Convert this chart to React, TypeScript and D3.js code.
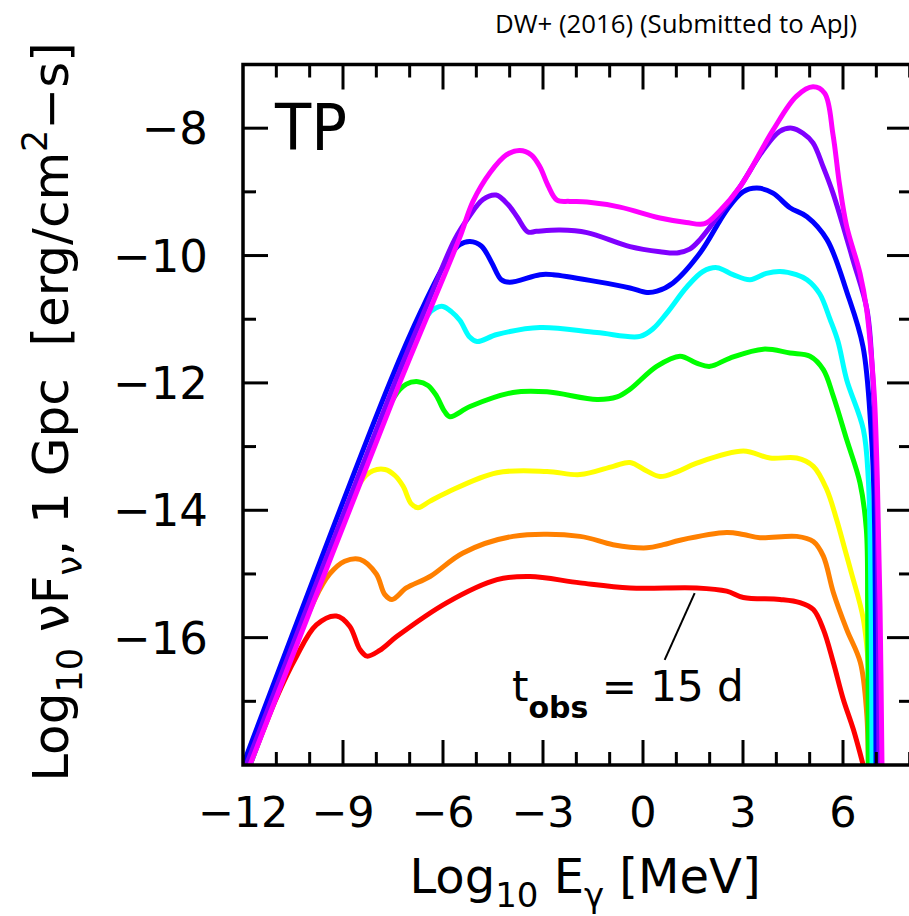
import React from 'react';
import * as d3 from 'd3';

type P = [number, number];

const X_DOMAIN: [number, number] = [-12, 8.07];
const Y_DOMAIN: [number, number] = [-18, -7];
const xMajorTicks = [-12, -9, -6, -3, 0, 3, 6];
const xMinorTicks = d3.range(-11, 9);
const yMajorTicks = [-8, -10, -12, -14, -16];
const yMinorTicks = d3.range(-17, -7);
const subtitle = 'DW+ (2016) (Submitted to ApJ)';
const panelLabel = 'TP';

const red: P[] = [
  [-11.79, -18], [-11.0, -16.95], [-10.4, -16.3], [-9.8, -15.8], [-9.2, -15.66], [-8.8, -15.82],
  [-8.5, -16.18], [-8.28, -16.29], [-7.9, -16.2], [-7.38, -15.98], [-5.88, -15.45], [-4.38, -15.09],
  [-3.39, -15.04], [-1.89, -15.14], [-0.39, -15.22], [1.61, -15.22], [2.51, -15.27], [3.01, -15.37],
  [4.11, -15.4], [4.71, -15.45], [5.11, -15.56], [5.41, -15.87], [5.71, -16.39], [6.01, -16.97],
  [6.31, -17.44], [6.61, -18.01],
];
const orange: P[] = [
  [-11.79, -18], [-9.84, -15.39], [-9.4, -15.0], [-8.95, -14.8], [-8.49, -14.77], [-8.0, -15.0],
  [-7.75, -15.32], [-7.53, -15.4], [-7.1, -15.22], [-6.39, -15.04], [-5.4, -14.67], [-3.9, -14.41],
  [-1.89, -14.41], [-0.9, -14.54], [0.12, -14.59], [0.61, -14.54], [1.11, -14.47], [2.51, -14.35],
  [3.01, -14.38], [3.51, -14.43], [4.61, -14.41], [5.11, -14.49], [5.41, -14.72], [5.71, -15.29],
  [6.11, -15.87], [6.52, -16.39], [6.71, -17.18], [6.76, -18.01],
];
const yellow: P[] = [
  [-11.79, -18], [-8.45, -13.54], [-8.1, -13.38], [-7.74, -13.36], [-7.45, -13.45], [-7.2, -13.62],
  [-6.95, -13.9], [-6.75, -13.96], [-6.4, -13.86], [-5.88, -13.72], [-4.38, -13.41], [-2.88, -13.39],
  [-1.89, -13.44], [-0.89, -13.31], [-0.39, -13.25], [0.1, -13.38], [0.51, -13.47], [1.0, -13.4],
  [1.61, -13.26], [3.01, -13.07], [3.81, -13.18], [4.61, -13.18], [5.11, -13.31], [5.51, -13.67],
  [5.81, -14.15], [6.06, -14.62], [6.25, -14.98], [6.61, -15.71], [6.81, -16.76], [6.91, -18.01],
];
const green: P[] = [
  [-11.79, -18], [-7.46, -12.22], [-7.1, -12.02], [-6.75, -11.98], [-6.45, -12.04], [-6.2, -12.2],
  [-5.95, -12.45], [-5.79, -12.53], [-5.19, -12.37], [-3.9, -12.15], [-2.88, -12.14], [-1.38, -12.26],
  [-0.78, -12.22], [-0.39, -12.1], [0.41, -11.74], [1.11, -11.58], [1.61, -11.69], [2.01, -11.74],
  [2.61, -11.61], [3.61, -11.47], [4.41, -11.53], [5.01, -11.58], [5.41, -11.79], [5.71, -12.21],
  [6.11, -12.89], [6.51, -13.57], [6.7, -14.3], [6.74, -15.6], [6.76, -18.01],
];
const cyan: P[] = [
  [-11.79, -18], [-6.45, -10.93], [-6.2, -10.82], [-6.0, -10.8], [-5.75, -10.88], [-5.49, -11.02],
  [-5.2, -11.28], [-4.98, -11.35], [-4.38, -11.24], [-3.09, -11.13], [-1.38, -11.21], [-0.09, -11.27],
  [0.3, -11.15], [0.72, -10.9], [1.32, -10.49], [1.8, -10.25], [2.22, -10.19], [2.7, -10.3],
  [3.21, -10.38], [3.7, -10.28], [4.11, -10.25], [4.6, -10.3], [4.92, -10.38], [5.3, -10.6],
  [5.61, -11.0], [5.85, -11.35], [6.11, -11.95], [6.61, -12.73], [6.76, -13.52], [6.84, -15.5],
  [6.87, -18.01],
];
const blue: P[] = [
  [-12, -18], [-7.6, -12], [-6.64, -10.85], [-5.85, -10.05], [-5.5, -9.83], [-5.19, -9.78],
  [-4.85, -9.85], [-4.55, -10.1], [-4.25, -10.38], [-4.0, -10.42], [-3.09, -10.3], [-2.7, -10.3],
  [-1.38, -10.41], [-0.39, -10.51], [0.12, -10.58], [0.42, -10.56], [0.9, -10.43], [1.71, -9.96],
  [2.52, -9.28], [3.0, -9.0], [3.42, -8.94], [3.9, -9.02], [4.41, -9.25], [4.92, -9.39],
  [5.52, -9.75], [6.12, -10.58], [6.6, -11.43], [6.84, -12.73], [6.93, -13.78], [6.99, -18.01],
];
const purple: P[] = [
  [-11.9, -18], [-7.45, -12.0], [-6.5, -10.8], [-5.65, -9.75], [-5.22, -9.39], [-4.8, -9.12],
  [-4.41, -9.05], [-4.05, -9.2], [-3.78, -9.39], [-3.45, -9.63], [-3.2, -9.62], [-2.49, -9.6],
  [-1.68, -9.64], [-0.39, -9.86], [0.51, -9.94], [1.02, -9.96], [1.4, -9.9], [1.71, -9.75],
  [2.3, -9.35], [2.91, -8.92], [3.6, -8.35], [4.1, -8.05], [4.47, -8.0], [4.8, -8.08], [5.1, -8.23],
  [5.4, -8.6], [5.7, -9.02], [6.3, -10.07], [6.72, -10.85], [6.87, -11.7], [6.96, -12.8],
  [7.03, -14.2], [7.08, -18.01],
];
const magenta: P[] = [
  [-11.79, -18], [-7.3, -12.0], [-6.35, -10.8], [-5.5, -9.72], [-5.1, -9.15], [-4.59, -8.7],
  [-4.1, -8.42], [-3.7, -8.35], [-3.35, -8.42], [-3.09, -8.61], [-2.85, -8.9], [-2.58, -9.13],
  [-2.2, -9.15], [-1.68, -9.16], [-0.69, -9.24], [0.51, -9.41], [1.3, -9.48], [1.85, -9.5],
  [2.3, -9.3], [2.91, -8.92], [3.9, -8.03], [4.6, -7.5], [5.1, -7.35], [5.45, -7.45], [5.7, -8.1],
  [5.9, -8.9], [6.11, -9.54], [6.51, -10.28], [6.71, -10.85], [6.86, -11.64], [6.95, -12.3],
  [7.03, -13.52], [7.11, -15.5], [7.17, -18.01],
];

const seriesNames = ['red', 'orange', 'yellow', 'green', 'cyan', 'blue', 'purple', 'magenta'];
const seriesColors = ['#ff0000', '#ff8000', '#ffff00', '#00ff00', '#00ffff', '#0000ff', '#8000ff', '#ff00ff'];
const seriesData = [red, orange, yellow, green, cyan, blue, purple, magenta];

const annotationFrom: P = [1.55, -15.3];
const annotationTo: P = [0.65, -16.35];
const annotationTextAt: P = [-3.93, -16.99];

const FONT = '"DejaVu Sans", sans-serif';
const minus = (v: number) => (v < 0 ? '\u2212' + Math.abs(v) : String(v));
const NB = '\u00a0';

export default function App() {
  const left = 243, right = 912, top = 64.5, bottom = 765;
  const x = d3.scaleLinear().domain(X_DOMAIN).range([left, right]);
  const y = d3.scaleLinear().domain(Y_DOMAIN).range([bottom, top]);
  const line = d3
    .line<P>()
    .x((d) => x(d[0]))
    .y((d) => y(d[1]))
    .curve(d3.curveCatmullRom.alpha(0.5));

  const majLen = 25, minLen = 13;
  const xMajSet = new Set(xMajorTicks);
  const yMajSet = new Set(yMajorTicks);

  return (
    <svg
      width={909}
      height={916}
      style={{ position: 'absolute', left: 0, top: 0, background: '#fff' }}
      fontFamily={FONT}
    >
      <defs>
        <clipPath id="plot">
          <rect x={left} y={top} width={right - left} height={bottom - top} />
        </clipPath>
      </defs>
      <rect x={0} y={0} width={909} height={916} fill="#fff" />

      <g clipPath="url(#plot)">
        {seriesData.map((s, i) => (
          <path
            key={seriesNames[i]}
            d={line(s) || ''}
            fill="none"
            stroke={seriesColors[i]}
            strokeWidth={5}
            strokeLinejoin="round"
            strokeLinecap="round"
          />
        ))}
      </g>

      {/* ticks */}
      <g stroke="#000" strokeWidth={3}>
        {xMinorTicks.map((t) => {
          const L = xMajSet.has(t) ? majLen : minLen;
          return (
            <g key={'xt' + t}>
              <line x1={x(t)} x2={x(t)} y1={bottom} y2={bottom - L} />
              <line x1={x(t)} x2={x(t)} y1={top} y2={top + L} />
            </g>
          );
        })}
        {yMinorTicks.map((t) => {
          const L = yMajSet.has(t) ? majLen : minLen;
          return (
            <g key={'yt' + t}>
              <line x1={left} x2={left + L} y1={y(t)} y2={y(t)} />
              <line x1={right} x2={right - L} y1={y(t)} y2={y(t)} />
            </g>
          );
        })}
      </g>
      <rect x={left} y={top} width={right - left} height={bottom - top} fill="none" stroke="#000" strokeWidth={3.5} />

      {/* tick labels */}
      <g fill="#000">
        {xMajorTicks.map((t) => (
          <text key={'xl' + t} x={x(t)} y={827} textAnchor="middle" fontSize={43}>
            {minus(t)}
          </text>
        ))}
        {yMajorTicks.map((t) => (
          <text key={'yl' + t} x={208} y={y(t) + 16} textAnchor="end" fontSize={45}>
            {minus(t)}
          </text>
        ))}
      </g>

      {/* x title */}
      <text x={585} y={893} textAnchor="middle" fontSize={48} fill="#000">
        Log
        <tspan fontSize={34} dy={14}>10</tspan>
        <tspan dy={-14}>{' E'}</tspan>
        <tspan fontSize={34} dy={14}>γ</tspan>
        <tspan dy={-14}>{' [MeV]'}</tspan>
      </text>

      {/* y title */}
      <text transform="translate(68,412) rotate(-90)" textAnchor="middle" fontSize={50} fill="#000">
        Log
        <tspan fontSize={35} dy={14}>10</tspan>
        <tspan dy={-14}>{' νF'}</tspan>
        <tspan fontSize={35} dy={14}>ν</tspan>
        <tspan dy={-14}>{', 1 Gpc' + NB + ' [erg/cm'}</tspan>
        <tspan fontSize={35} dy={-21}>2</tspan>
        <tspan dy={21}>−s]</tspan>
      </text>

      {/* panel label */}
      <text x={275} y={150} fontSize={64} textLength={72} lengthAdjust="spacingAndGlyphs" fill="#000">
        {panelLabel}
      </text>

      {/* annotation */}
      <line
        x1={x(annotationFrom[0])}
        y1={y(annotationFrom[1])}
        x2={x(annotationTo[0])}
        y2={y(annotationTo[1])}
        stroke="#000"
        strokeWidth={2}
      />
      <text x={x(annotationTextAt[0])} y={y(annotationTextAt[1])} fontSize={42} fill="#000">
        t
        <tspan fontSize={30} fontWeight="bold" dy={17}>obs</tspan>
        <tspan dy={-17}>{' = 15 d'}</tspan>
      </text>

      {/* subtitle */}
      <text
        x={495}
        y={33}
        fontFamily='"Open Sans", sans-serif'
        fontSize={26}
        textLength={362}
        lengthAdjust="spacingAndGlyphs"
        fill="#000"
      >
        {subtitle}
      </text>
    </svg>
  );
}
